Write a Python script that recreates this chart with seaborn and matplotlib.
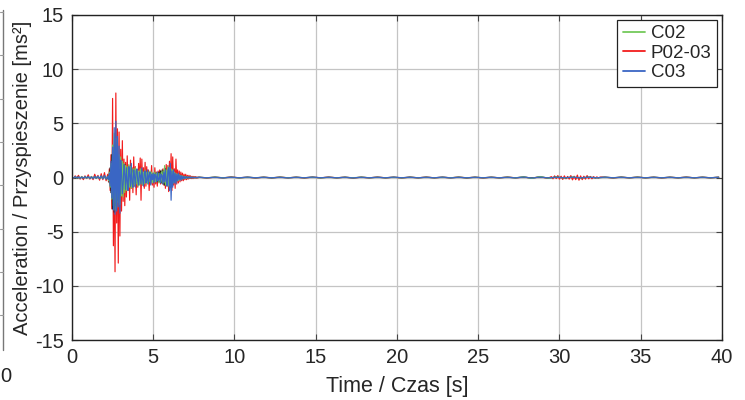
import numpy as np
import pandas as pd
import matplotlib
matplotlib.use("Agg")
import matplotlib.pyplot as plt
from matplotlib.lines import Line2D
import seaborn as sns

# ---- recorded accelerations [m/s^2], stored as (start time, step, values) segments ----
c02_pre = [0.03, -0.04, 0.05, -0.06, 0.04, -0.05, 0.07, -0.04, 0.06, -0.07, 0.05,
           -0.06, 0.08, -0.05, 0.09, -0.08, 0.1, -0.09, 0.12, -0.1, 0.15, -0.12]
c02_main = [0.1, -0.3, 0.5, -0.9, 1.3, -2.0, 3.0, -2.6, 4.1, -3.0, 3.6, -2.8, 2.9, -2.3,
            2.1, -2.5, 1.9, -1.7, 1.5, -1.8, 1.3, -1.4, 1.1, -1.2, 1.0, -1.1, 1.2, -0.9,
            1.0, -1.0, 0.8, -0.9, 0.8, -0.7, 0.9, -0.6, 0.7, -0.8, 0.6, -0.7, 0.8, -0.6,
            0.6, -0.7, 0.5, -0.6, 0.7, -0.5, 0.5, -0.6, 0.5, -0.4, 0.6, -0.4, 0.5, -0.5,
            0.4, -0.4, 0.5, -0.4, 0.4, -0.3, 0.4, -0.5, 0.3, -0.4, 0.5, -0.5, 0.6, -0.5,
            1.1, -0.7, 0.7, -0.6, 1.0, -0.8, 0.9, -0.9, 0.8, -0.7, 0.7, -0.5, 0.5, -0.4,
            0.4, -0.3, 0.3, -0.3, 0.25, -0.2, 0.2, -0.15, 0.15, -0.1, 0.1, -0.1, 0.08,
            -0.08, 0.06, -0.05, 0.05, -0.04, 0.04, -0.03, 0.03, -0.03, 0.02, -0.02, 0.02,
            -0.02, 0.01, -0.01]
c02_post = [0.02, -0.02, 0.03, -0.02, 0.02, -0.03, 0.02, -0.02, 0.02, -0.02, 0.03, -0.02,
            0.02, -0.02, 0.02, -0.03, 0.02, -0.02, 0.02, -0.02, 0.03, -0.02, 0.02, -0.02,
            0.02, -0.03, 0.02, -0.02, 0.02, -0.02, 0.02, -0.02, 0.03, -0.02, 0.02, -0.02,
            0.02, -0.02, 0.03, -0.03, 0.06, -0.08, 0.09, -0.06, 0.04, -0.03, 0.03, -0.02,
            0.02, -0.02, 0.02, -0.02, 0.02, -0.02, 0.03, -0.02, 0.02, -0.02, 0.02, -0.02,
            0.02, -0.02, 0.02, -0.02, 0.02]

p0203_pre = [0.05, -0.1, 0.15, -0.05, 0.2, -0.15, 0.1, -0.2, 0.15, -0.1, 0.25,
             -0.15, 0.1, -0.2, 0.3, -0.1, 0.2, -0.25, 0.35, -0.2, 0.45, -0.3]
p0203_main = [0.3, -0.4, 0.8, -1.2, 2.1, -2.9, 7.3, -6.3, 3.0, -8.7, 7.8, -4.2, 4.5, -7.9,
              4.2, -5.4,
              2.6, -3.1, 3.4, -2.2, 1.7, -2.6, 1.4, -1.8, 2.0, -1.2, 1.1, -2.1, 1.6, -1.0,
              0.9, -1.4, 1.9, -0.8, 1.0, -1.6,
              0.7, -0.9, 1.3, -0.6, 1.8, -2.1, 1.7, -0.7, 0.9, -1.0, 1.4, -0.8, 1.0, -0.5,
              0.7, -1.2, 0.5, -0.6, 1.1, -0.7,
              0.4, -0.9, 0.9, -0.6, 0.5, -0.8, 0.6, -0.4, 0.7, -0.6, 0.4, -0.5, 0.8, -0.7,
              0.9, -1.0, 1.2, -0.8, 1.1, -1.3,
              1.5, -0.9, 2.2, -1.2, 1.9, -0.7, 0.8, -1.0, 1.7, -0.6, 0.7, -0.5, 0.6, -0.4,
              0.5, -0.3, 0.4, -0.3, 0.3, -0.2,
              0.3, -0.2, 0.2, -0.15, 0.2, -0.1, 0.15, -0.1, 0.1, -0.1, 0.1, -0.05, 0.08,
              -0.06, 0.05, -0.04]
p0203_post_a = [0.03, -0.04, 0.03, -0.03, 0.04, -0.03, 0.03, -0.04, 0.03, -0.03, 0.04,
                -0.03, 0.03, -0.04, 0.03, -0.03, 0.04, -0.03, 0.03, -0.04, 0.03, -0.03,
                0.04, -0.03, 0.03, -0.04, 0.03, -0.03, 0.04, -0.03, 0.03, -0.03, 0.04,
                -0.03, 0.03, -0.04, 0.03, -0.03, 0.04, -0.03, 0.03, -0.04, 0.05, -0.06]
p0203_burst = [0.08, -0.12, 0.15, -0.1, 0.18, -0.15, 0.12, -0.18, 0.15, -0.12, 0.1, -0.15,
               0.18, -0.22, 0.12, -0.2, 0.22, -0.25, 0.15, -0.2, 0.12, -0.15, 0.18, -0.12,
               0.1, -0.12, 0.08, -0.06, 0.06, -0.05, 0.04]
p0203_post_b = [0.03, -0.04, 0.03, -0.03, 0.04, -0.03, 0.03, -0.04, 0.03, -0.03, 0.04,
                -0.03, 0.03, -0.03, 0.03]

c03_pre = [0.02, -0.05, 0.08, -0.04, 0.06, -0.07, 0.05, -0.06, 0.08, -0.05, 0.07,
           -0.08, 0.06, -0.09, 0.1, -0.07, 0.12, -0.1, 0.15, -0.12, 0.2, -0.15]
c03_main = [0.1, -0.2, 0.4, -0.8, 1.5, -1.9, 2.8, -3.0, 4.6, -3.4, 5.2, -3.1, 3.8, -2.7,
            2.9, -3.3,
            1.6, 0.4, -1.5, -0.6, 1.2, 0.3, -1.1, 0.9, -0.4, -1.2, 1.0, 0.2, -0.8, 1.3,
            -0.5, -0.9, 0.7, 0.1, -0.9, 0.6,
            0.8, -0.3, -0.7, 0.5, 0.2, -0.6, 0.9, -0.2, -0.8, 0.4, 0.6, -0.5, -0.3, 0.7,
            -0.6, 0.2, 0.5, -0.7, 0.3, -0.2,
            0.4, -0.5, 0.3, 0.1, -0.4, 0.5, -0.3, -0.2, 0.4, -0.5, 0.3, 0.2, -0.6, 0.5,
            -0.4, 0.7, -0.3, -0.8, 0.6, 0.9,
            -1.2, 1.3, -2.1, 0.6, -0.9, 0.7, -0.5, 0.4, -0.6, 0.3, -0.3, 0.4, -0.2, 0.2,
            -0.25, 0.15, -0.15, 0.1, -0.1, 0.08,
            -0.06, 0.06, -0.05, 0.05, -0.04, 0.04, -0.03, 0.03, -0.03, 0.02, -0.02, 0.02,
            -0.02, 0.01, -0.01, 0.01]
c03_post = [0.02, -0.02, 0.02, -0.03, 0.02, -0.02, 0.03, -0.02, 0.02, -0.02, 0.02, -0.03,
            0.02, -0.02, 0.03, -0.02, 0.02, -0.02, 0.02, -0.03, 0.02, -0.02, 0.02, -0.02,
            0.03, -0.02, 0.02, -0.02, 0.02, -0.02, 0.03, -0.03, 0.02, -0.02, 0.02, -0.02,
            0.02, -0.02, 0.02, -0.03, 0.04, -0.05, 0.04, -0.03, 0.02, -0.02, 0.02, -0.02,
            0.02, -0.02, 0.03, -0.02, 0.02, -0.02, 0.02, -0.02, 0.02, -0.02, 0.02, -0.02,
            0.02, -0.02, 0.02, -0.02, 0.02]

ref_pre = [0.02, -0.03, 0.04, -0.03, 0.05, -0.04, 0.03, -0.05, 0.04, -0.03, 0.06,
           -0.05, 0.04, -0.06, 0.07, -0.05, 0.08, -0.07, 0.1, -0.08, 0.12, -0.1]
ref_main = [-0.1, 0.2, -0.5, 0.9, -1.4, 2.1, -2.9, 2.5, -3.2, 3.0, -2.6, 2.4, -2.1, 1.8,
            -2.0, 1.6, -1.5, 1.3, -1.4, 1.1, -1.0, 1.2, -0.9, 0.8, -1.0, 0.9, -0.7, 0.8,
            -0.8, 0.6, -0.7, 0.7, -0.6, 0.5, -0.6, 0.7, -0.5, 0.5, -0.6, 0.4, -0.5, 0.6,
            -0.4, 0.4, -0.5, 0.4, -0.4, 0.5, -0.3, 0.4, -0.4, 0.3, -0.4, 0.4, -0.3, 0.3,
            -0.4, 0.3, -0.3, 0.4, -0.3, 0.3, -0.4, 0.5, -0.4, 0.6, -0.5, 0.7, -0.6, 0.6,
            -0.7, 0.8, -0.6, 0.5, -0.5, 0.4, -0.4, 0.3, -0.3, 0.3, -0.2, 0.2, -0.2, 0.15,
            -0.15, 0.1, -0.1, 0.1, -0.08, 0.08, -0.06, 0.06, -0.05, 0.05, -0.04, 0.04,
            -0.03, 0.03, -0.03, 0.02, -0.02, 0.02, -0.02, 0.01, -0.01, 0.01, -0.01, 0.01,
            -0.01, 0.01, -0.01, 0.01]
ref_post = [0.02, -0.02, 0.02, -0.02, 0.03, -0.02, 0.02, -0.02, 0.02, -0.03, 0.02, -0.02,
            0.02, -0.02, 0.03, -0.02, 0.02, -0.02, 0.02, -0.03, 0.02, -0.02, 0.02, -0.02,
            0.02, -0.02, 0.03, -0.02, 0.02, -0.02, 0.02, -0.02, 0.02, -0.03, 0.02, -0.02,
            0.02, -0.02, 0.02, -0.02, 0.04, -0.05, 0.05, -0.04, 0.03, -0.02, 0.02, -0.02,
            0.02, -0.02, 0.02, -0.02, 0.03, -0.02, 0.02, -0.02, 0.02, -0.02, 0.02, -0.02,
            0.02, -0.02, 0.02, -0.02, 0.02]

series_segments = {
    "P02-03": [(0.0, 0.1, p0203_pre), (2.2, 0.05, p0203_main), (7.8, 0.5, p0203_post_a),
               (29.5, 0.1, p0203_burst), (32.8, 0.5, p0203_post_b)],
    "REF": [(0.0, 0.1, ref_pre), (2.2, 0.05, ref_main), (7.8, 0.5, ref_post)],
    "C02": [(0.0, 0.1, c02_pre), (2.2, 0.05, c02_main), (7.8, 0.5, c02_post)],
    "C03": [(0.0, 0.1, c03_pre), (2.2, 0.05, c03_main), (7.8, 0.5, c03_post)],
}
series_colors = {"C02": "#74c95a", "P02-03": "#f21c1c", "REF": "#1a1a1a", "C03": "#3a66c4"}
legend_order = ["C02", "P02-03", "C03"]

x_ticks = list(range(0, 41, 5))
y_ticks = list(range(-15, 16, 5))

rows = []
for name, segments in series_segments.items():
    for start, step, values in segments:
        for k, v in enumerate(values):
            rows.append((name, start + step * k, v))
df = pd.DataFrame(rows, columns=["series", "time", "acc"])

sns.set_style("white")
plt.rcParams["font.family"] = ["Liberation Sans", "DejaVu Sans"]
plt.rcParams["axes.unicode_minus"] = False

fig = plt.figure(figsize=(7.45, 4.0), dpi=100)
ax = fig.add_axes([0.0966, 0.15, 0.8725, 0.8125])

sns.lineplot(data=df, x="time", y="acc", hue="series",
             hue_order=list(series_segments.keys()), palette=series_colors,
             estimator=None, sort=False, linewidth=0.85, legend=False, ax=ax)

ax.set_xlim(0, 40)
ax.set_ylim(-15, 15)
ax.set_xticks(x_ticks)
ax.set_yticks(y_ticks)
ax.grid(True, color="#c4c4c4", linewidth=0.9)
ax.set_axisbelow(True)
for sp in ax.spines.values():
    sp.set_color("#222222")
    sp.set_linewidth(1.0)
    sp.set_visible(True)
ax.tick_params(direction="in", length=4, width=0.8, color="#444444",
               labelsize=14.5, pad=6, top=True, right=True, left=True, bottom=True)
ax.set_xlabel("Time / Czas [s]", fontsize=15.5, labelpad=6)
ax.set_ylabel("Acceleration / Przyspieszenie [ms²]", fontsize=14.5, labelpad=2)

handles = [Line2D([0], [0], color=series_colors[n], linewidth=1.3) for n in legend_order]
leg = ax.legend(handles, legend_order, loc="upper right", fontsize=13.5,
                frameon=True, fancybox=False, edgecolor="#222222", framealpha=1,
                borderpad=0.3, labelspacing=0.12, handlelength=1.2,
                handletextpad=0.3, borderaxespad=0.25)
leg.get_frame().set_linewidth(0.9)

# edge of the neighbouring panel on the left
fig.add_artist(Line2D([3 / 745, 3 / 745], [1 - 10 / 400, 1 - 350 / 400],
                      transform=fig.transFigure, color="#777777", linewidth=1.0))
for yp in np.arange(12, 350, 43.3):
    fig.add_artist(Line2D([0, 3 / 745], [1 - yp / 400, 1 - yp / 400],
                          transform=fig.transFigure, color="#999999", linewidth=0.8))
fig.text(0.0, 1 - 376 / 400, "0", fontsize=14.5, ha="left", va="center", color="#222222")

fig.savefig("out.png", dpi=100)
